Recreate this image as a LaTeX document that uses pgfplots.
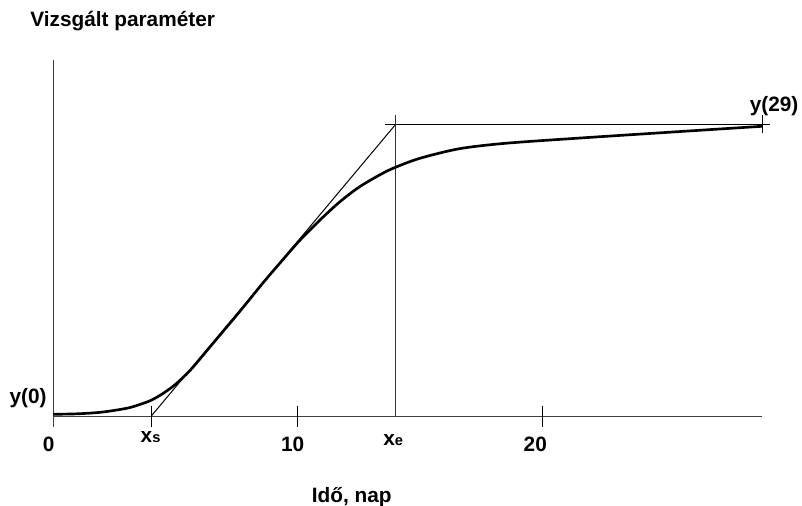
\documentclass[border=0pt]{standalone}
\usepackage{fontspec}
\setmainfont{Liberation Sans}
\usepackage{pgfplots}
\pgfplotsset{compat=1.18}
\begin{document}
\begin{tikzpicture}[lbl/.style={font=\fontsize{15.6}{18}\selectfont\bfseries, inner sep=0pt}]
\begin{axis}[
  x=18.33pt, y=7.5pt,
  xmin=-2.181, xmax=30.634, ymin=-8.97, ymax=41.63,
  hide axis, clip=false,
]
% axes
\addplot[line width=1pt, black!75] coordinates {(0,0) (29,0)};
\addplot[line width=1pt, black!75] coordinates {(0,-1.07) (0,35.6)};
% ticks
\addplot[line width=0.8pt, black] coordinates {(4,1.03) (4,-1.07)};
\addplot[line width=0.8pt, black] coordinates {(10,1.03) (10,-1.07)};
\addplot[line width=0.8pt, black] coordinates {(20,1.03) (20,-1.07)};
% construction lines
\addplot[line width=0.75pt, black] coordinates {(4,0) (14,29.17)};
\addplot[line width=0.75pt, black] coordinates {(13.57,29.17) (29.32,29.17)};
\addplot[line width=0.8pt, black!80] coordinates {(14,30.1) (14,0)};
\addplot[line width=0.8pt, black] coordinates {(29,30.1) (29,28.3)};
% curve
\addplot[line width=2pt, black, smooth] coordinates {
 (0,0.2) (1,0.25) (2,0.42) (3,0.8) (3.5,1.15) (4,1.6) (4.5,2.3) (5,3.2)
 (5.6,4.6) (6.5,7.2) (7.6,10.4) (8.6,13.4) (9.3,15.4) (10.05,17.5)
 (10.9,19.6) (11.7,21.4) (12.5,22.9) (13.4,24.2) (14,24.9) (15,25.8)
 (16.6,26.75) (18.5,27.3) (21.7,27.85) (25.8,28.5) (29,29.0)};
% labels
\node[lbl, anchor=base west] at (axis cs:-0.95,38.96) {Vizsgált paraméter};
\node[lbl, anchor=base] at (axis cs:-0.19,-3.54) {0};
\node[lbl, anchor=base] at (axis cs:3.98,-2.64) {x{\fontsize{11}{12}\selectfont s}};
\node[lbl, anchor=base] at (axis cs:9.79,-3.54) {10};
\node[lbl, anchor=base] at (axis cs:13.91,-2.97) {x{\fontsize{11}{12}\selectfont e}};
\node[lbl, anchor=base] at (axis cs:19.72,-3.54) {20};
\node[lbl, anchor=base] at (axis cs:12.21,-8.64) {Idő, nap};
\node[lbl, anchor=base] at (axis cs:-1.035,1.3) {y(0)};
\node[lbl, anchor=base] at (axis cs:29.49,30.46) {y(29)};
\coordinate (bbl) at (axis cs:-2.181,-8.97);
\coordinate (btr) at (axis cs:30.634,41.63);
\end{axis}
\pgfresetboundingbox
\useasboundingbox (bbl) rectangle (btr);
\end{tikzpicture}
\end{document}
